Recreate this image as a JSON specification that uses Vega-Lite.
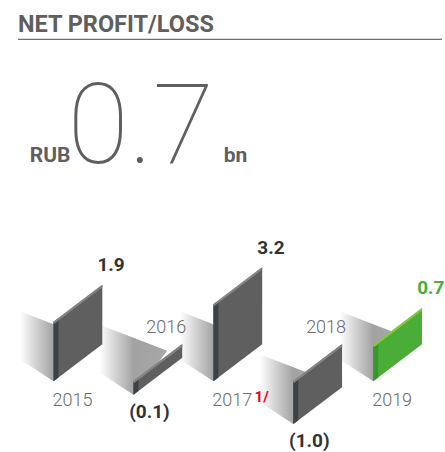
{
  "$schema": "https://vega.github.io/schema/vega-lite/v6.json",
  "width": 445,
  "height": 452,
  "autosize": {"type": "fit", "contains": "padding"},
  "padding": 0,
  "background": "#ffffff",
  "config": {
    "view": {"stroke": null},
    "axis": {"disable": true},
    "text": {"font": "Roboto"}
  },
  "data": {
    "values": [
      {"year": 2015, "value": 1.9, "note": ""},
      {"year": 2016, "value": -0.1, "note": ""},
      {"year": 2017, "value": 3.2, "note": "1/"},
      {"year": 2018, "value": -1.0, "note": ""},
      {"year": 2019, "value": 0.7, "note": ""}
    ]
  },
  "transform": [
    {"calculate": "(datum.value < 0 ? -1 : 1) * sqrt(abs(datum.value))", "as": "s"},
    {"calculate": "max(datum.s, 0)", "as": "top"},
    {"calculate": "min(datum.s, 0)", "as": "bot"}
  ],
  "layer": [
    {
      "transform": [
        {"calculate": "[0,1,2]", "as": "k"},
        {"flatten": ["k"]},
        {"calculate": "datum.year + (datum.k - 1) * 0.4225", "as": "px"},
        {"calculate": "datum.bot + 1.628 - datum.k * 0.3025", "as": "py"},
        {"calculate": "datum.bot + (datum.k === 0 ? 0.512 : (datum.k === 1 ? 0 : 1.023))", "as": "py2"}
      ],
      "mark": {
        "type": "area",
        "color": {
          "gradient": "linear", "x1": 0, "x2": 1, "y1": 0, "y2": 0,
          "stops": [
            {"offset": 0, "color": "#ffffff"},
            {"offset": 0.5, "color": "#a2a2a2"},
            {"offset": 1, "color": "#a8a8a8"}
          ]
        }
      },
      "encoding": {
        "x": {"field": "px", "type": "quantitative", "scale": {"domain": [2014.33, 2019.86], "nice": false, "zero": false}, "axis": null},
        "y": {"field": "py", "type": "quantitative", "scale": {"domain": [-1.628, 8.884], "nice": false, "zero": false}, "axis": null},
        "y2": {"field": "py2"},
        "detail": {"field": "year", "type": "nominal"}
      }
    },
    {
      "transform": [
        {"calculate": "[0,1]", "as": "k"},
        {"flatten": ["k"]},
        {"calculate": "datum.year + datum.k * 0.61", "as": "px"},
        {"calculate": "datum.top + datum.k * 0.86", "as": "py"},
        {"calculate": "datum.bot + datum.k * 0.86", "as": "py2"}
      ],
      "mark": {"type": "area"},
      "encoding": {
        "x": {"field": "px", "type": "quantitative", "scale": {"domain": [2014.33, 2019.86], "nice": false, "zero": false}, "axis": null},
        "y": {"field": "py", "type": "quantitative", "scale": {"domain": [-1.628, 8.884], "nice": false, "zero": false}, "axis": null},
        "y2": {"field": "py2"},
        "detail": {"field": "year", "type": "nominal"},
        "color": {"condition": {"test": "datum.year === 2019", "value": "#4aad37"}, "value": "#5f5f5f"}
      }
    },
    {
      "transform": [
        {"calculate": "[0,1]", "as": "k"},
        {"flatten": ["k"]},
        {"calculate": "datum.year + datum.k * 0.062", "as": "px"},
        {"calculate": "datum.top + datum.k * 0.087", "as": "py"},
        {"calculate": "datum.bot + datum.k * 0.087", "as": "py2"}
      ],
      "mark": {"type": "area"},
      "encoding": {
        "x": {"field": "px", "type": "quantitative", "scale": {"domain": [2014.33, 2019.86], "nice": false, "zero": false}, "axis": null},
        "y": {"field": "py", "type": "quantitative", "scale": {"domain": [-1.628, 8.884], "nice": false, "zero": false}, "axis": null},
        "y2": {"field": "py2"},
        "detail": {"field": "year", "type": "nominal"},
        "color": {"condition": {"test": "datum.year === 2019", "value": "#369a2b"}, "value": "#3c4145"}
      }
    },
    {
      "transform": [
        {"calculate": "[0,1]", "as": "k"},
        {"flatten": ["k"]},
        {"calculate": "datum.year + datum.k * 0.61", "as": "px"},
        {"calculate": "datum.top + datum.k * 0.86 - 0.02", "as": "py"}
      ],
      "mark": {"type": "line", "strokeWidth": 2.2},
      "encoding": {
        "x": {"field": "px", "type": "quantitative", "scale": {"domain": [2014.33, 2019.86], "nice": false, "zero": false}, "axis": null},
        "y": {"field": "py", "type": "quantitative", "scale": {"domain": [-1.628, 8.884], "nice": false, "zero": false}, "axis": null},
        "detail": {"field": "year", "type": "nominal"},
        "color": {"condition": {"test": "datum.year === 2019", "value": "#8cc63f"}, "value": "#858585"}
      }
    },
    {
      "transform": [
        {"calculate": "datum.value > 0 ? datum.year + 0.72 : datum.year + 0.2", "as": "px"},
        {"calculate": "datum.value > 0 ? datum.top + 0.86 + 0.326 : datum.bot - 0.535", "as": "py"},
        {"calculate": "datum.value < 0 ? '(' + format(-datum.value, '.1f') + ')' : format(datum.value, '.1f')", "as": "lbl"}
      ],
      "mark": {"type": "text", "fontSize": 19, "fontWeight": "bold", "align": "center", "baseline": "alphabetic"},
      "encoding": {
        "x": {"field": "px", "type": "quantitative", "scale": {"domain": [2014.33, 2019.86], "nice": false, "zero": false}, "axis": null},
        "y": {"field": "py", "type": "quantitative", "scale": {"domain": [-1.628, 8.884], "nice": false, "zero": false}, "axis": null},
        "text": {"field": "lbl"},
        "color": {"condition": {"test": "datum.year === 2019", "value": "#4aad37"}, "value": "#333333"}
      }
    },
    {
      "transform": [
        {"calculate": "datum.value > 0 ? datum.year + 0.236 : datum.year + 0.41", "as": "px"},
        {"calculate": "datum.value > 0 ? -0.581 : 1.116", "as": "py"},
        {"calculate": "'' + datum.year", "as": "ylbl"}
      ],
      "mark": {"type": "text", "fontSize": 18, "fontWeight": 300, "align": "center", "baseline": "alphabetic", "color": "#6b6b6b"},
      "encoding": {
        "x": {"field": "px", "type": "quantitative", "scale": {"domain": [2014.33, 2019.86], "nice": false, "zero": false}, "axis": null},
        "y": {"field": "py", "type": "quantitative", "scale": {"domain": [-1.628, 8.884], "nice": false, "zero": false}, "axis": null},
        "text": {"field": "ylbl"}
      }
    },
    {
      "transform": [
        {"filter": "datum.note !== ''"},
        {"calculate": "datum.year + 0.515", "as": "px"},
        {"calculate": "-0.488", "as": "py"}
      ],
      "mark": {"type": "text", "fontSize": 15, "fontWeight": "bold", "align": "left", "baseline": "alphabetic", "color": "#e30613"},
      "encoding": {
        "x": {"field": "px", "type": "quantitative", "scale": {"domain": [2014.33, 2019.86], "nice": false, "zero": false}, "axis": null},
        "y": {"field": "py", "type": "quantitative", "scale": {"domain": [-1.628, 8.884], "nice": false, "zero": false}, "axis": null},
        "text": {"field": "note"}
      }
    },
    {
      "transform": [{"filter": "datum.year === 2019"}],
      "mark": {"type": "text", "text": "NET PROFIT/LOSS", "fontSize": 23.5, "fontWeight": "bold", "align": "left", "baseline": "alphabetic", "color": "#5f5f5f"},
      "encoding": {
        "x": {"datum": 2014.554, "type": "quantitative", "scale": {"domain": [2014.33, 2019.86], "nice": false, "zero": false}, "axis": null},
        "y": {"datum": 8.14, "type": "quantitative", "scale": {"domain": [-1.628, 8.884], "nice": false, "zero": false}, "axis": null}
      }
    },
    {
      "transform": [{"filter": "datum.year === 2019"}],
      "mark": {"type": "rule", "color": "#6f6f6f", "strokeWidth": 1.2},
      "encoding": {
        "x": {"datum": 2014.554, "type": "quantitative", "scale": {"domain": [2014.33, 2019.86], "nice": false, "zero": false}, "axis": null},
        "x2": {"datum": 2019.86},
        "y": {"datum": 7.965, "type": "quantitative", "scale": {"domain": [-1.628, 8.884], "nice": false, "zero": false}, "axis": null}
      }
    },
    {
      "transform": [{"filter": "datum.year === 2019"}],
      "mark": {"type": "text", "text": "RUB", "fontSize": 21, "fontWeight": "bold", "align": "left", "baseline": "alphabetic", "color": "#5f5f5f"},
      "encoding": {
        "x": {"datum": 2014.703, "type": "quantitative", "scale": {"domain": [2014.33, 2019.86], "nice": false, "zero": false}, "axis": null},
        "y": {"datum": 5.116, "type": "quantitative", "scale": {"domain": [-1.628, 8.884], "nice": false, "zero": false}, "axis": null}
      }
    },
    {
      "transform": [{"filter": "datum.year === 2019"}, {"calculate": "format(datum.value, '.1f')", "as": "big"}],
      "mark": {"type": "text", "fontSize": 112, "fontWeight": 100, "align": "left", "baseline": "alphabetic", "color": "#5f5f5f"},
      "encoding": {
        "text": {"field": "big"},
        "x": {"datum": 2015.175, "type": "quantitative", "scale": {"domain": [2014.33, 2019.86], "nice": false, "zero": false}, "axis": null},
        "y": {"datum": 5.093, "type": "quantitative", "scale": {"domain": [-1.628, 8.884], "nice": false, "zero": false}, "axis": null}
      }
    },
    {
      "transform": [{"filter": "datum.year === 2019"}],
      "mark": {"type": "text", "text": "bn", "fontSize": 21, "fontWeight": "bold", "align": "left", "baseline": "alphabetic", "color": "#5f5f5f"},
      "encoding": {
        "x": {"datum": 2017.13, "type": "quantitative", "scale": {"domain": [2014.33, 2019.86], "nice": false, "zero": false}, "axis": null},
        "y": {"datum": 5.116, "type": "quantitative", "scale": {"domain": [-1.628, 8.884], "nice": false, "zero": false}, "axis": null}
      }
    }
  ]
}
